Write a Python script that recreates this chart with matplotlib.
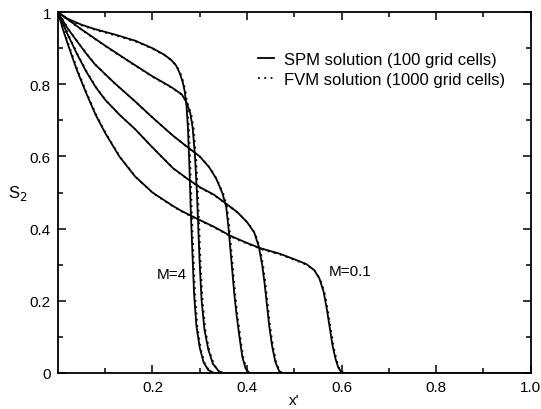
import matplotlib
matplotlib.use("Agg")
import matplotlib.pyplot as plt
import matplotlib.transforms as mtransforms
from matplotlib.lines import Line2D

plt.rcParams["font.family"] = ["Liberation Sans", "DejaVu Sans"]

# S2 profiles, one per mobility ratio (top curve M=4 ... bottom M=0.1)
x_m4 = [0, 0.02, 0.05, 0.078, 0.12, 0.163, 0.2, 0.225, 0.24, 0.25, 0.258, 0.264, 0.268,
        0.272, 0.275, 0.278, 0.281, 0.284, 0.288, 0.293, 0.3, 0.308, 0.318, 0.33, 1.0]
s_m4 = [1, 0.982, 0.965, 0.953, 0.938, 0.921, 0.9, 0.882, 0.867, 0.852, 0.83, 0.806, 0.782,
        0.74, 0.68, 0.58, 0.45, 0.35, 0.22, 0.13, 0.07, 0.03, 0.008, 0, 0]

x_c2 = [0, 0.05, 0.1, 0.15, 0.2, 0.24, 0.262, 0.272, 0.28, 0.285, 0.29, 0.294, 0.297,
        0.3, 0.304, 0.31, 0.318, 0.328, 0.34, 0.35, 1.0]
s_c2 = [1, 0.952, 0.907, 0.864, 0.822, 0.792, 0.772, 0.75, 0.72, 0.68, 0.6, 0.5, 0.4,
        0.3, 0.2, 0.12, 0.065, 0.025, 0.005, 0, 0]

x_c3 = [0, 0.02, 0.04, 0.06, 0.078, 0.1, 0.12, 0.163, 0.2, 0.243, 0.272, 0.3, 0.32, 0.335,
        0.348, 0.356, 0.361, 0.365, 0.369, 0.373, 0.378, 0.384, 0.39, 0.397, 0.405, 1.0]
s_c3 = [1, 0.956, 0.92, 0.885, 0.856, 0.828, 0.803, 0.753, 0.708, 0.658, 0.628, 0.6, 0.57,
        0.538, 0.498, 0.46, 0.4, 0.34, 0.28, 0.22, 0.16, 0.1, 0.045, 0.012, 0, 0]

x_c4 = [0, 0.02, 0.04, 0.06, 0.08, 0.1, 0.13, 0.163, 0.2, 0.243, 0.275, 0.3, 0.33, 0.357,
        0.38, 0.4, 0.415, 0.425, 0.432, 0.437, 0.442, 0.447, 0.453, 0.46, 0.468, 0.475, 1.0]
s_c4 = [1, 0.94, 0.885, 0.835, 0.792, 0.757, 0.716, 0.676, 0.625, 0.568, 0.537, 0.515,
        0.494, 0.468, 0.445, 0.418, 0.39, 0.35, 0.3, 0.25, 0.19, 0.13, 0.075, 0.03, 0.005,
        0, 0]

x_m01 = [0, 0.01, 0.02, 0.04, 0.06, 0.08, 0.1, 0.13, 0.163, 0.2, 0.243, 0.26, 0.295,
         0.33, 0.365, 0.4, 0.43, 0.47, 0.5, 0.525, 0.542, 0.553, 0.562, 0.569, 0.575,
         0.581, 0.587, 0.593, 0.599, 0.606, 1.0]
s_m01 = [1, 0.955, 0.915, 0.84, 0.775, 0.715, 0.665, 0.6, 0.545, 0.5, 0.463, 0.45, 0.427,
         0.405, 0.38, 0.36, 0.345, 0.33, 0.315, 0.302, 0.285, 0.262, 0.225, 0.175, 0.125,
         0.075, 0.04, 0.015, 0.003, 0, 0]

curves = [(x_m4, s_m4), (x_c2, s_c2), (x_c3, s_c3), (x_c4, s_c4), (x_m01, s_m01)]

x_ticks = [0.2, 0.4, 0.6, 0.8, 1.0]
x_ticklabels = ["0.2", "0.4", "0.6", "0.8", "1.0"]
y_ticks = [0, 0.2, 0.4, 0.6, 0.8, 1.0]
y_ticklabels = ["0", "0.2", "0.4", "0.6", "0.8", "1"]

fig = plt.figure(figsize=(5.41, 4.10), dpi=100)
ax = fig.add_axes([0.107, 0.088, 0.874, 0.880])

# dotted FVM curve drawn a hair off the solid one so the dots stay visible
shift = ax.transData + mtransforms.ScaledTranslation(1 / 100, -1 / 100, fig.dpi_scale_trans)
for x, s in curves:
    ax.plot(x, s, color="black", lw=1.3, solid_joinstyle="round")
    ax.plot(x, s, color="black", lw=1.3, ls=(0, (1, 2.5)), transform=shift)

ax.set_xlim(0, 1)
ax.set_ylim(0, 1)
ax.set_xticks(x_ticks, x_ticklabels)
ax.set_yticks(y_ticks, y_ticklabels)
ax.set_xticks([0.1, 0.3, 0.5, 0.7, 0.9], minor=True)
ax.set_yticks([0.1, 0.3, 0.5, 0.7, 0.9], minor=True)
ax.tick_params(which="both", direction="in", top=True, right=True, width=1.1, labelsize=11)
ax.tick_params(which="major", length=6, pad=5)
ax.tick_params(which="minor", length=3.5)
for sp in ax.spines.values():
    sp.set_linewidth(1.3)

ax.text(-0.085, 0.5, "S$_2$", transform=ax.transAxes, fontsize=12, ha="center", va="center")
ax.text(0.5, -0.074, "x'", transform=ax.transAxes, fontsize=11, ha="center", va="center")

ax.text(0.209, 0.274, "M=4", fontsize=11, va="center")
ax.text(0.573, 0.283, "M=0.1", fontsize=11, va="center")

handles = [Line2D([], [], color="black", lw=1.3),
           Line2D([], [], color="black", lw=1.3, ls=(0, (1, 2.5)))]
ax.legend(handles, ["SPM solution (100 grid cells)", "FVM solution (1000 grid cells)"],
          loc="upper left", bbox_to_anchor=(0.41, 0.908), borderaxespad=0, frameon=False,
          fontsize=12, handlelength=0.95, handletextpad=0.6, labelspacing=0.28)

fig.savefig("out.png", dpi=100)
